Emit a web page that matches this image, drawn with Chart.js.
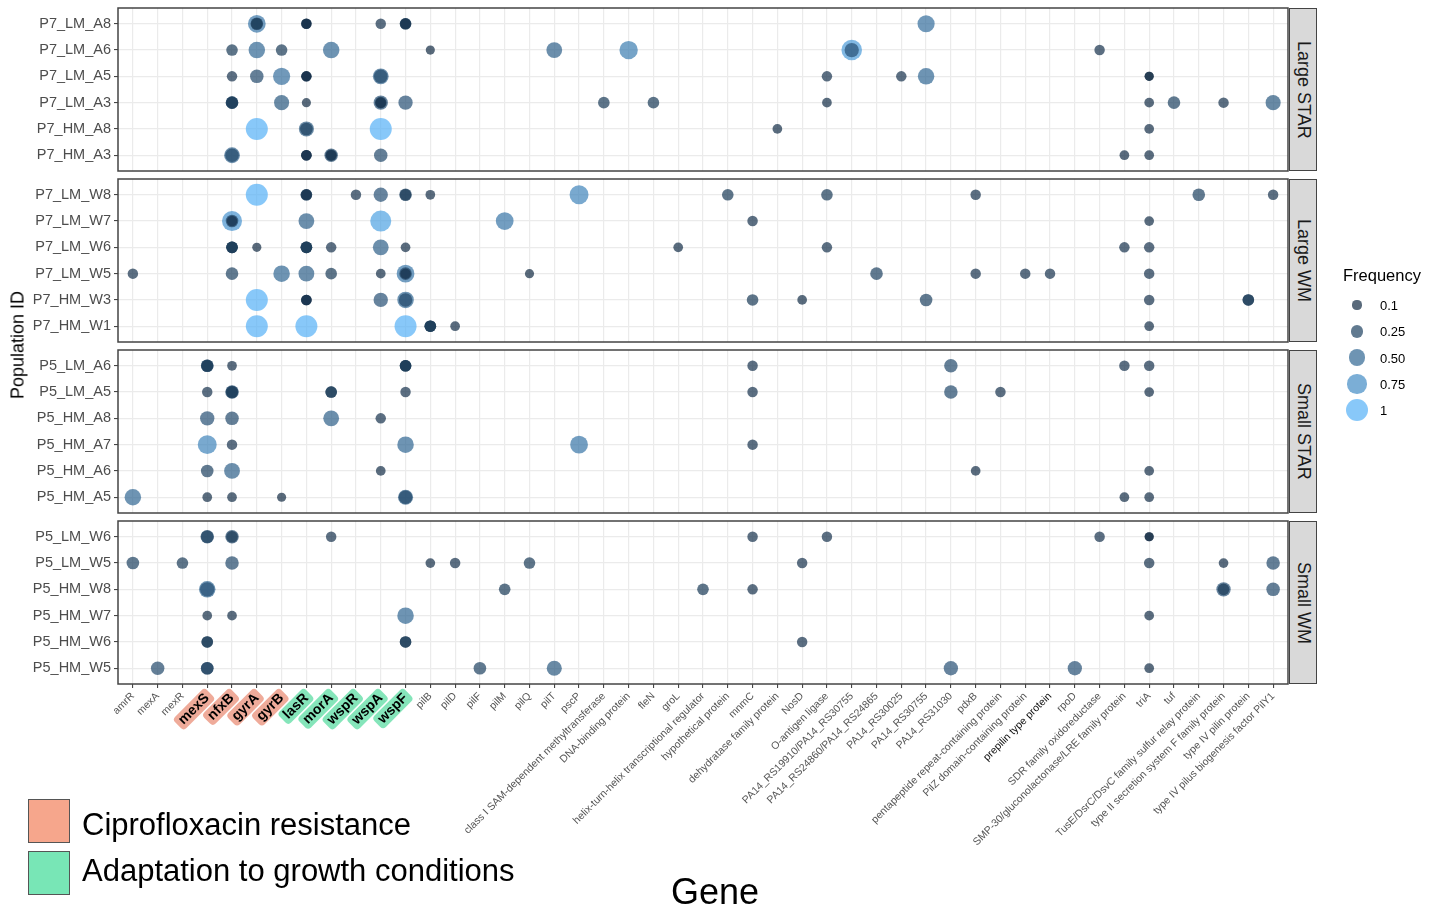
<!DOCTYPE html>
<html>
<head>
<meta charset="utf-8">
<script src="https://cdn.jsdelivr.net/npm/chart.js@4.4.1/dist/chart.umd.min.js"></script>
<style>
  body { margin: 0; background: #fff; font-family: "Liberation Sans", Arial, sans-serif; }
  #wrap { position: relative; width: 1444px; height: 909px; overflow: hidden; background: #fff; }
  canvas { position: absolute; left: 0; }
  .strip { position: absolute; background: #d9d9d9; border: 1.5px solid #444; box-sizing: border-box;
           writing-mode: vertical-rl; display: flex; align-items: center; justify-content: center;
           font-size: 18px; color: #1a1a1a; }
  .ytitle { position: absolute; left: 18px; top: 345px; transform: translate(-50%, -50%) rotate(-90deg);
            font-size: 18px; white-space: nowrap; color: #000; }
  .xtitle { position: absolute; left: 715px; top: 892px; transform: translate(-50%, -50%);
            font-size: 36px; color: #000; }
  .freq { position: absolute; left: 1343px; top: 266px; font-size: 16.5px; color: #000; }
  .fitem { position: absolute; left: 1380px; font-size: 13px; color: #000; transform: translateY(-50%); }
  .fdot { position: absolute; border-radius: 50%; }
  .gbox { position: absolute; left: 28px; width: 42px; height: 44px; border: 1px solid #555; box-sizing: border-box; }
  .gtext { position: absolute; left: 82px; font-size: 31px; color: #000; transform: translateY(-50%); white-space: nowrap; }
</style>
</head>
<body>
<div id="wrap"></div>
<script>
// genes on the x axis, in plotting order
const genes = ['amrR', 'mexA', 'mexR', 'mexS', 'nfxB', 'gyrA', 'gyrB', 'lasR', 'morA', 'wspR', 'wspA', 'wspF',
  'pilB', 'pilD', 'pilF', 'pilM', 'pilQ', 'pilT', 'pscP', 'class I SAM-dependent methyltransferase',
  'DNA-binding protein', 'fleN', 'groL', 'helix-turn-helix transcriptional regulator', 'hypothetical protein',
  'mnmC', 'dehydratase family protein', 'NosD', 'O-antigen ligase', 'PA14_RS19910/PA14_RS30755',
  'PA14_RS24860/PA14_RS24865', 'PA14_RS30025', 'PA14_RS30755', 'PA14_RS31030', 'pdxB',
  'pentapeptide repeat-containing protein', 'PilZ domain-containing protein', 'prepilin type protein', 'rpoD',
  'SDR family oxidoreductase', 'SMP-30/gluconolactonase/LRE family protein', 'triA', 'tuf',
  'TusE/DsrC/DsvC family sulfur relay protein', 'type II secretion system F family protein',
  'type IV pilin protein', 'type IV pilus biogenesis factor PilY1'];

const ciproGenes = ['mexS', 'nfxB', 'gyrA', 'gyrB'];
const growthGenes = ['lasR', 'morA', 'wspR', 'wspA', 'wspF'];

const facetLabels = ['Large STAR', 'Large WM', 'Small STAR', 'Small WM'];
const largeStarRows = ['P7_LM_A8', 'P7_LM_A6', 'P7_LM_A5', 'P7_LM_A3', 'P7_HM_A8', 'P7_HM_A3'];
const largeWmRows = ['P7_LM_W8', 'P7_LM_W7', 'P7_LM_W6', 'P7_LM_W5', 'P7_HM_W3', 'P7_HM_W1'];
const smallStarRows = ['P5_LM_A6', 'P5_LM_A5', 'P5_HM_A8', 'P5_HM_A7', 'P5_HM_A6', 'P5_HM_A5'];
const smallWmRows = ['P5_LM_W6', 'P5_LM_W5', 'P5_HM_W8', 'P5_HM_W7', 'P5_HM_W6', 'P5_HM_W5'];

const legendFreqs = [0.1, 0.25, 0.5, 0.75, 1];

// [population, gene, frequency] - repeated gene entries are separate mutations in the same gene
const largeStar = [
  ['P7_LM_A8', 'gyrA', 0.6], ['P7_LM_A8', 'gyrA', 0.25], ['P7_LM_A8', 'gyrA', 0.2],
  ['P7_LM_A8', 'lasR', 0.15], ['P7_LM_A8', 'lasR', 0.15], ['P7_LM_A8', 'lasR', 0.12],
  ['P7_LM_A8', 'wspA', 0.15],
  ['P7_LM_A8', 'wspF', 0.2], ['P7_LM_A8', 'wspF', 0.2], ['P7_LM_A8', 'wspF', 0.15],
  ['P7_LM_A8', 'PA14_RS30755', 0.55],
  ['P7_LM_A6', 'nfxB', 0.2], ['P7_LM_A6', 'gyrA', 0.5], ['P7_LM_A6', 'gyrB', 0.2], ['P7_LM_A6', 'morA', 0.5],
  ['P7_LM_A6', 'pilB', 0.1], ['P7_LM_A6', 'pilT', 0.45], ['P7_LM_A6', 'DNA-binding protein', 0.65],
  ['P7_LM_A6', 'PA14_RS19910/PA14_RS30755', 0.85], ['P7_LM_A6', 'PA14_RS19910/PA14_RS30755', 0.35],
  ['P7_LM_A6', 'SDR family oxidoreductase', 0.15],
  ['P7_LM_A5', 'nfxB', 0.15], ['P7_LM_A5', 'gyrA', 0.3], ['P7_LM_A5', 'gyrB', 0.55],
  ['P7_LM_A5', 'lasR', 0.15], ['P7_LM_A5', 'lasR', 0.15], ['P7_LM_A5', 'lasR', 0.12],
  ['P7_LM_A5', 'wspA', 0.45], ['P7_LM_A5', 'wspA', 0.3],
  ['P7_LM_A5', 'O-antigen ligase', 0.15], ['P7_LM_A5', 'PA14_RS30025', 0.15], ['P7_LM_A5', 'PA14_RS30755', 0.5],
  ['P7_LM_A5', 'triA', 0.1], ['P7_LM_A5', 'triA', 0.1],
  ['P7_LM_A3', 'nfxB', 0.25], ['P7_LM_A3', 'nfxB', 0.25], ['P7_LM_A3', 'nfxB', 0.2],
  ['P7_LM_A3', 'gyrB', 0.4], ['P7_LM_A3', 'lasR', 0.1],
  ['P7_LM_A3', 'wspA', 0.35], ['P7_LM_A3', 'wspA', 0.2], ['P7_LM_A3', 'wspA', 0.15],
  ['P7_LM_A3', 'wspF', 0.35], ['P7_LM_A3', 'class I SAM-dependent methyltransferase', 0.2],
  ['P7_LM_A3', 'fleN', 0.2], ['P7_LM_A3', 'O-antigen ligase', 0.12], ['P7_LM_A3', 'triA', 0.12],
  ['P7_LM_A3', 'tuf', 0.25], ['P7_LM_A3', 'type II secretion system F family protein', 0.15],
  ['P7_LM_A3', 'type IV pilus biogenesis factor PilY1', 0.4],
  ['P7_HM_A8', 'gyrA', 1], ['P7_HM_A8', 'lasR', 0.4], ['P7_HM_A8', 'lasR', 0.25], ['P7_HM_A8', 'wspA', 1],
  ['P7_HM_A8', 'dehydratase family protein', 0.12], ['P7_HM_A8', 'triA', 0.12],
  ['P7_HM_A3', 'nfxB', 0.45], ['P7_HM_A3', 'nfxB', 0.3],
  ['P7_HM_A3', 'lasR', 0.15], ['P7_HM_A3', 'lasR', 0.15], ['P7_HM_A3', 'lasR', 0.15],
  ['P7_HM_A3', 'morA', 0.3], ['P7_HM_A3', 'morA', 0.2], ['P7_HM_A3', 'morA', 0.15],
  ['P7_HM_A3', 'wspA', 0.3], ['P7_HM_A3', 'SMP-30/gluconolactonase/LRE family protein', 0.12],
  ['P7_HM_A3', 'triA', 0.12]
];

const largeWm = [
  ['P7_LM_W8', 'gyrA', 1], ['P7_LM_W8', 'lasR', 0.2], ['P7_LM_W8', 'lasR', 0.2], ['P7_LM_W8', 'lasR', 0.15],
  ['P7_LM_W8', 'wspR', 0.15], ['P7_LM_W8', 'wspA', 0.35], ['P7_LM_W8', 'wspF', 0.25], ['P7_LM_W8', 'wspF', 0.2],
  ['P7_LM_W8', 'pilB', 0.12], ['P7_LM_W8', 'pscP', 0.7], ['P7_LM_W8', 'hypothetical protein', 0.2],
  ['P7_LM_W8', 'O-antigen ligase', 0.2], ['P7_LM_W8', 'pdxB', 0.15],
  ['P7_LM_W8', 'TusE/DsrC/DsvC family sulfur relay protein', 0.25],
  ['P7_LM_W8', 'type IV pilus biogenesis factor PilY1', 0.15],
  ['P7_LM_W7', 'nfxB', 0.8], ['P7_LM_W7', 'nfxB', 0.25], ['P7_LM_W7', 'nfxB', 0.15],
  ['P7_LM_W7', 'lasR', 0.45], ['P7_LM_W7', 'wspA', 0.9], ['P7_LM_W7', 'pilM', 0.6],
  ['P7_LM_W7', 'mnmC', 0.15], ['P7_LM_W7', 'triA', 0.12],
  ['P7_LM_W6', 'nfxB', 0.2], ['P7_LM_W6', 'nfxB', 0.2], ['P7_LM_W6', 'nfxB', 0.2], ['P7_LM_W6', 'gyrA', 0.1],
  ['P7_LM_W6', 'lasR', 0.2], ['P7_LM_W6', 'lasR', 0.2], ['P7_LM_W6', 'lasR', 0.2],
  ['P7_LM_W6', 'morA', 0.15], ['P7_LM_W6', 'wspA', 0.45], ['P7_LM_W6', 'wspF', 0.12], ['P7_LM_W6', 'groL', 0.12],
  ['P7_LM_W6', 'O-antigen ligase', 0.15], ['P7_LM_W6', 'SMP-30/gluconolactonase/LRE family protein', 0.15],
  ['P7_LM_W6', 'triA', 0.15],
  ['P7_LM_W5', 'amrR', 0.15], ['P7_LM_W5', 'nfxB', 0.25], ['P7_LM_W5', 'gyrB', 0.5], ['P7_LM_W5', 'lasR', 0.45],
  ['P7_LM_W5', 'morA', 0.2], ['P7_LM_W5', 'wspA', 0.12],
  ['P7_LM_W5', 'wspF', 0.6], ['P7_LM_W5', 'wspF', 0.25], ['P7_LM_W5', 'wspF', 0.15],
  ['P7_LM_W5', 'pilQ', 0.1], ['P7_LM_W5', 'PA14_RS24860/PA14_RS24865', 0.25], ['P7_LM_W5', 'pdxB', 0.15],
  ['P7_LM_W5', 'PilZ domain-containing protein', 0.15], ['P7_LM_W5', 'prepilin type protein', 0.15],
  ['P7_LM_W5', 'triA', 0.15],
  ['P7_HM_W3', 'gyrA', 1], ['P7_HM_W3', 'lasR', 0.15], ['P7_HM_W3', 'lasR', 0.15], ['P7_HM_W3', 'lasR', 0.15],
  ['P7_HM_W3', 'wspA', 0.35], ['P7_HM_W3', 'wspF', 0.5], ['P7_HM_W3', 'wspF', 0.3],
  ['P7_HM_W3', 'mnmC', 0.2], ['P7_HM_W3', 'NosD', 0.12], ['P7_HM_W3', 'PA14_RS30755', 0.25],
  ['P7_HM_W3', 'triA', 0.15], ['P7_HM_W3', 'type IV pilin protein', 0.2], ['P7_HM_W3', 'type IV pilin protein', 0.2],
  ['P7_HM_W1', 'gyrA', 1], ['P7_HM_W1', 'lasR', 1], ['P7_HM_W1', 'wspF', 1],
  ['P7_HM_W1', 'pilB', 0.2], ['P7_HM_W1', 'pilB', 0.2], ['P7_HM_W1', 'pilB', 0.2],
  ['P7_HM_W1', 'pilD', 0.12], ['P7_HM_W1', 'triA', 0.12]
];

const smallStar = [
  ['P5_LM_A6', 'mexS', 0.25], ['P5_LM_A6', 'mexS', 0.25], ['P5_LM_A6', 'mexS', 0.2], ['P5_LM_A6', 'nfxB', 0.12],
  ['P5_LM_A6', 'wspF', 0.2], ['P5_LM_A6', 'wspF', 0.2], ['P5_LM_A6', 'wspF', 0.2],
  ['P5_LM_A6', 'mnmC', 0.15], ['P5_LM_A6', 'PA14_RS31030', 0.3],
  ['P5_LM_A6', 'SMP-30/gluconolactonase/LRE family protein', 0.15], ['P5_LM_A6', 'triA', 0.15],
  ['P5_LM_A5', 'mexS', 0.15], ['P5_LM_A5', 'nfxB', 0.3], ['P5_LM_A5', 'nfxB', 0.25], ['P5_LM_A5', 'nfxB', 0.2],
  ['P5_LM_A5', 'morA', 0.2], ['P5_LM_A5', 'morA', 0.2], ['P5_LM_A5', 'wspF', 0.15],
  ['P5_LM_A5', 'mnmC', 0.15], ['P5_LM_A5', 'PA14_RS31030', 0.3],
  ['P5_LM_A5', 'pentapeptide repeat-containing protein', 0.15], ['P5_LM_A5', 'triA', 0.12],
  ['P5_HM_A8', 'mexS', 0.35], ['P5_HM_A8', 'nfxB', 0.3], ['P5_HM_A8', 'morA', 0.45], ['P5_HM_A8', 'wspA', 0.15],
  ['P5_HM_A7', 'mexS', 0.7], ['P5_HM_A7', 'nfxB', 0.15], ['P5_HM_A7', 'wspF', 0.5], ['P5_HM_A7', 'pscP', 0.6],
  ['P5_HM_A7', 'mnmC', 0.15],
  ['P5_HM_A6', 'mexS', 0.25], ['P5_HM_A6', 'nfxB', 0.45], ['P5_HM_A6', 'wspA', 0.12], ['P5_HM_A6', 'pdxB', 0.12],
  ['P5_HM_A6', 'triA', 0.12],
  ['P5_HM_A5', 'amrR', 0.5], ['P5_HM_A5', 'mexS', 0.12], ['P5_HM_A5', 'nfxB', 0.12], ['P5_HM_A5', 'gyrB', 0.1],
  ['P5_HM_A5', 'wspF', 0.4], ['P5_HM_A5', 'wspF', 0.3],
  ['P5_HM_A5', 'SMP-30/gluconolactonase/LRE family protein', 0.12], ['P5_HM_A5', 'triA', 0.12]
];

const smallWm = [
  ['P5_LM_W6', 'mexS', 0.3], ['P5_LM_W6', 'mexS', 0.25], ['P5_LM_W6', 'nfxB', 0.3], ['P5_LM_W6', 'nfxB', 0.2],
  ['P5_LM_W6', 'morA', 0.15], ['P5_LM_W6', 'mnmC', 0.15], ['P5_LM_W6', 'O-antigen ligase', 0.15],
  ['P5_LM_W6', 'SDR family oxidoreductase', 0.15], ['P5_LM_W6', 'triA', 0.1], ['P5_LM_W6', 'triA', 0.1],
  ['P5_LM_W5', 'amrR', 0.25], ['P5_LM_W5', 'mexR', 0.2], ['P5_LM_W5', 'nfxB', 0.3], ['P5_LM_W5', 'pilB', 0.12],
  ['P5_LM_W5', 'pilD', 0.15], ['P5_LM_W5', 'pilQ', 0.2], ['P5_LM_W5', 'NosD', 0.15], ['P5_LM_W5', 'triA', 0.15],
  ['P5_LM_W5', 'type II secretion system F family protein', 0.12],
  ['P5_LM_W5', 'type IV pilus biogenesis factor PilY1', 0.3],
  ['P5_HM_W8', 'mexS', 0.5], ['P5_HM_W8', 'mexS', 0.35], ['P5_HM_W8', 'pilM', 0.2],
  ['P5_HM_W8', 'helix-turn-helix transcriptional regulator', 0.2], ['P5_HM_W8', 'mnmC', 0.15],
  ['P5_HM_W8', 'type II secretion system F family protein', 0.35],
  ['P5_HM_W8', 'type II secretion system F family protein', 0.2],
  ['P5_HM_W8', 'type IV pilus biogenesis factor PilY1', 0.3],
  ['P5_HM_W7', 'mexS', 0.12], ['P5_HM_W7', 'nfxB', 0.12], ['P5_HM_W7', 'wspF', 0.5], ['P5_HM_W7', 'triA', 0.12],
  ['P5_HM_W6', 'mexS', 0.2], ['P5_HM_W6', 'mexS', 0.2], ['P5_HM_W6', 'wspF', 0.2], ['P5_HM_W6', 'wspF', 0.2],
  ['P5_HM_W6', 'NosD', 0.15],
  ['P5_HM_W5', 'mexA', 0.3], ['P5_HM_W5', 'mexS', 0.25], ['P5_HM_W5', 'mexS', 0.25], ['P5_HM_W5', 'pilF', 0.25],
  ['P5_HM_W5', 'pilT', 0.4], ['P5_HM_W5', 'PA14_RS31030', 0.35], ['P5_HM_W5', 'rpoD', 0.35],
  ['P5_HM_W5', 'triA', 0.12]
];

// ---- layout ----
const W = 1444, H = 909;
const panelLeft = 118, panelRight = 1288, panelHeight = 163, pad = 4;
const panelTops = [8, 179, 350, 521];
const panels = [
  { rows: largeStarRows, points: largeStar },
  { rows: largeWmRows, points: largeWm },
  { rows: smallStarRows, points: smallStar },
  { rows: smallWmRows, points: smallWm }
];

const xTickLength = 4, xTickPadding = 2;
const hlFontSize = 14;

Chart.defaults.font.family = '"Liberation Sans", Arial, sans-serif';

// continuous frequency scale: dark navy -> light blue, point size by area
const lowColor = [19, 43, 67], highColor = [86, 177, 247];
function freqColor(f, alpha = 0.7) {
  const t = Math.min(1, Math.max(0, (f - 0.1) / 0.9));
  const c = lowColor.map((v, i) => Math.round(v + (highColor[i] - v) * t));
  return `rgba(${c[0]},${c[1]},${c[2]},${alpha})`;
}
function freqRadius(f) { return 1.6 + 9.4 * Math.sqrt(f); }

function highlightColor(gene) {
  if (ciproGenes.includes(gene)) return 'rgba(236,156,136,0.85)';
  if (growthGenes.includes(gene)) return 'rgba(112,224,174,0.85)';
  return null;
}

// full frame around each facet panel
const panelBox = {
  id: 'panelBox',
  afterDraw(chart) {
    const a = chart.chartArea, ctx = chart.ctx;
    ctx.save();
    ctx.strokeStyle = '#444';
    ctx.lineWidth = 1.5;
    ctx.strokeRect(a.left, a.top, a.right - a.left, a.bottom - a.top);
    ctx.restore();
  }
};

// rounded coloured boxes behind the highlighted gene names (drawn before the axis labels)
const labelBoxes = {
  id: 'labelBoxes',
  beforeDraw(chart) {
    const sx = chart.scales.x;
    if (!sx.options.ticks.display) return;
    const ctx = chart.ctx;
    const lh = hlFontSize * 1.2;
    const s45 = Math.SQRT1_2;
    ctx.save();
    ctx.font = `bold ${hlFontSize}px ${Chart.defaults.font.family}`;
    genes.forEach((g, i) => {
      const col = highlightColor(g);
      if (!col) return;
      const w = ctx.measureText(g).width;
      const x = sx.getPixelForValue(i) - (lh / 2) * s45;
      const y = sx.top + xTickLength + xTickPadding;
      ctx.save();
      ctx.translate(x, y);
      ctx.rotate(-Math.PI / 4);
      ctx.fillStyle = col;
      ctx.beginPath();
      ctx.roundRect(-w - 4, lh / 2 - 8, w + 8, 16, 4);
      ctx.fill();
      ctx.restore();
    });
    ctx.restore();
  }
};

const wrap = document.getElementById('wrap');

panels.forEach((p, k) => {
  const isBottom = k === panels.length - 1;
  const canvasTop = panelTops[k] - pad;
  const canvasHeight = isBottom ? H - canvasTop : panelHeight + 2 * pad;
  const xAxisHeight = isBottom ? canvasHeight - pad - panelHeight : 0;

  const canvas = document.createElement('canvas');
  canvas.width = W;
  canvas.height = canvasHeight;
  canvas.style.top = canvasTop + 'px';
  wrap.appendChild(canvas);

  new Chart(canvas.getContext('2d'), {
    type: 'bubble',
    data: {
      datasets: [{
        data: p.points.map(([row, gene, f]) => ({
          x: genes.indexOf(gene), y: p.rows.indexOf(row), r: freqRadius(f), f
        })),
        backgroundColor: ctx => freqColor(ctx.raw.f),
        borderWidth: 0
      }]
    },
    options: {
      responsive: false,
      animation: false,
      events: [],
      layout: {
        autoPadding: false,
        padding: { left: 0, right: W - panelRight, top: pad, bottom: isBottom ? 0 : pad }
      },
      plugins: { legend: { display: false }, tooltip: { enabled: false } },
      scales: {
        x: {
          type: 'linear',
          min: -0.6,
          max: genes.length - 0.4,
          afterBuildTicks: s => { s.ticks = genes.map((g, i) => ({ value: i })); },
          afterFit: s => { s.height = xAxisHeight; s.paddingLeft = 0; s.paddingRight = 0; },
          border: { display: false },
          grid: { color: '#ebebeb', lineWidth: 1.2, drawTicks: isBottom, tickLength: xTickLength, tickColor: '#333', tickWidth: 1 },
          ticks: {
            display: isBottom,
            autoSkip: false,
            minRotation: 45,
            maxRotation: 45,
            padding: xTickPadding,
            callback: v => genes[v],
            font: ctx => highlightColor(genes[ctx.index])
              ? { size: hlFontSize, weight: 'bold' }
              : { size: 10.5 },
            color: ctx => highlightColor(genes[ctx.index]) ? '#000'
              : (genes[ctx.index] === 'prepilin type protein' ? '#111' : '#555')
          }
        },
        y: {
          type: 'linear',
          min: -0.6,
          max: p.rows.length - 0.4,
          reverse: true,
          afterBuildTicks: s => { s.ticks = p.rows.map((r, i) => ({ value: i })); },
          afterFit: s => { s.width = panelLeft; s.paddingTop = 0; s.paddingBottom = 0; },
          border: { display: false },
          grid: { color: '#ebebeb', lineWidth: 1.2, tickLength: 4, tickColor: '#333', tickWidth: 1 },
          ticks: {
            autoSkip: false,
            padding: 3,
            callback: v => p.rows[v],
            font: { size: 14.5 },
            color: '#4d4d4d'
          }
        }
      }
    },
    plugins: [labelBoxes, panelBox]
  });

  // facet strip on the right
  const strip = document.createElement('div');
  strip.className = 'strip';
  strip.style.left = (panelRight + 1) + 'px';
  strip.style.top = panelTops[k] + 'px';
  strip.style.width = '28px';
  strip.style.height = panelHeight + 'px';
  strip.textContent = facetLabels[k];
  wrap.appendChild(strip);
});

// axis titles
const yTitle = document.createElement('div');
yTitle.className = 'ytitle';
yTitle.textContent = 'Population ID';
wrap.appendChild(yTitle);

const xTitle = document.createElement('div');
xTitle.className = 'xtitle';
xTitle.textContent = 'Gene';
wrap.appendChild(xTitle);

// frequency legend (size + colour)
const freqTitle = document.createElement('div');
freqTitle.className = 'freq';
freqTitle.textContent = 'Frequency';
wrap.appendChild(freqTitle);
legendFreqs.forEach((f, i) => {
  const cy = 305 + i * 26.3;
  const r = freqRadius(f);
  const dot = document.createElement('div');
  dot.className = 'fdot';
  dot.style.left = (1357 - r) + 'px';
  dot.style.top = (cy - r) + 'px';
  dot.style.width = dot.style.height = (2 * r) + 'px';
  dot.style.background = freqColor(f);
  wrap.appendChild(dot);
  const lab = document.createElement('div');
  lab.className = 'fitem';
  lab.style.top = cy + 'px';
  lab.textContent = f === 0.5 ? '0.50' : String(f);
  wrap.appendChild(lab);
});

// gene category key
[['Ciprofloxacin resistance', '#f6a68c', 799, 825], ['Adaptation to growth conditions', '#78e6b6', 851, 871]].forEach(([txt, col, top, textY]) => {
  const box = document.createElement('div');
  box.className = 'gbox';
  box.style.top = top + 'px';
  box.style.background = col;
  wrap.appendChild(box);
  const t = document.createElement('div');
  t.className = 'gtext';
  t.style.top = textY + 'px';
  t.textContent = txt;
  wrap.appendChild(t);
});
</script>
</body>
</html>
